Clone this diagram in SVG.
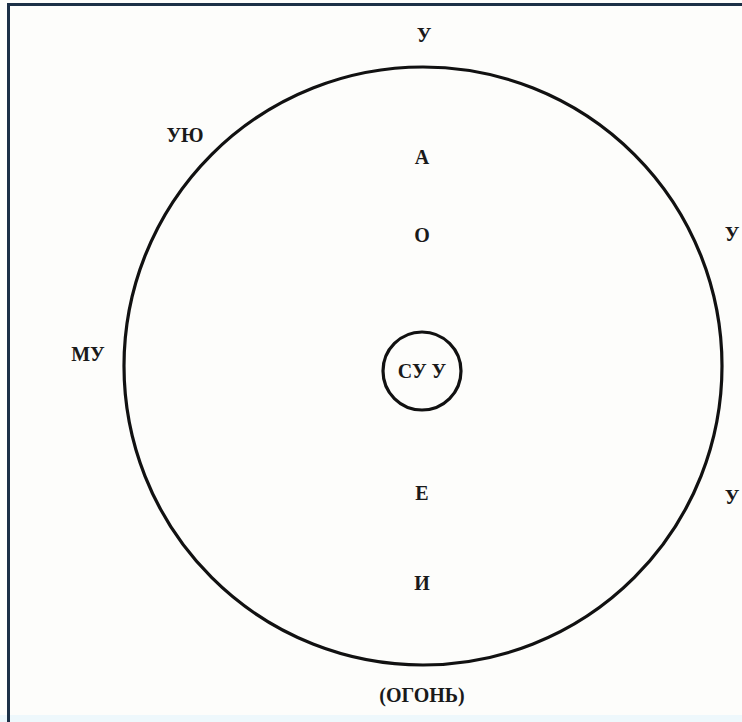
<svg xmlns="http://www.w3.org/2000/svg" width="742" height="722" viewBox="0 0 742 722">
<style>
.t{font-family:"Liberation Serif","Times New Roman",serif;font-weight:bold;font-size:20px;fill:#1a1a1a;text-anchor:middle}
.c{fill:none;stroke:#111;stroke-width:3.2}
</style>
<rect x="0" y="0" width="742" height="722" fill="#fdfdfb"/>
<rect x="0" y="715" width="742" height="7" fill="#eef8fc"/>
<rect x="7" y="3" width="735" height="3" fill="#1c3046"/>
<rect x="7" y="3" width="3" height="719" fill="#1c3046"/>
<g id="outer"><circle class="c" cx="423" cy="366" r="299"/></g>
<g id="inner"><circle class="c" cx="422" cy="371" r="39"/><text class="t" x="422" y="378">СУ У</text></g>
<g id="labels">
<text class="t" x="424" y="42">У</text>
<text class="t" x="185" y="142">УЮ</text>
<text class="t" x="422" y="164">А</text>
<text class="t" x="422" y="242">О</text>
<text class="t" x="732" y="241">У</text>
<text class="t" x="88" y="361">МУ</text>
<text class="t" x="422" y="500">Е</text>
<text class="t" x="732" y="504">У</text>
<text class="t" x="422" y="590">И</text>
<text class="t" x="422" y="702">(ОГОНЬ)</text>
</g>
</svg>
